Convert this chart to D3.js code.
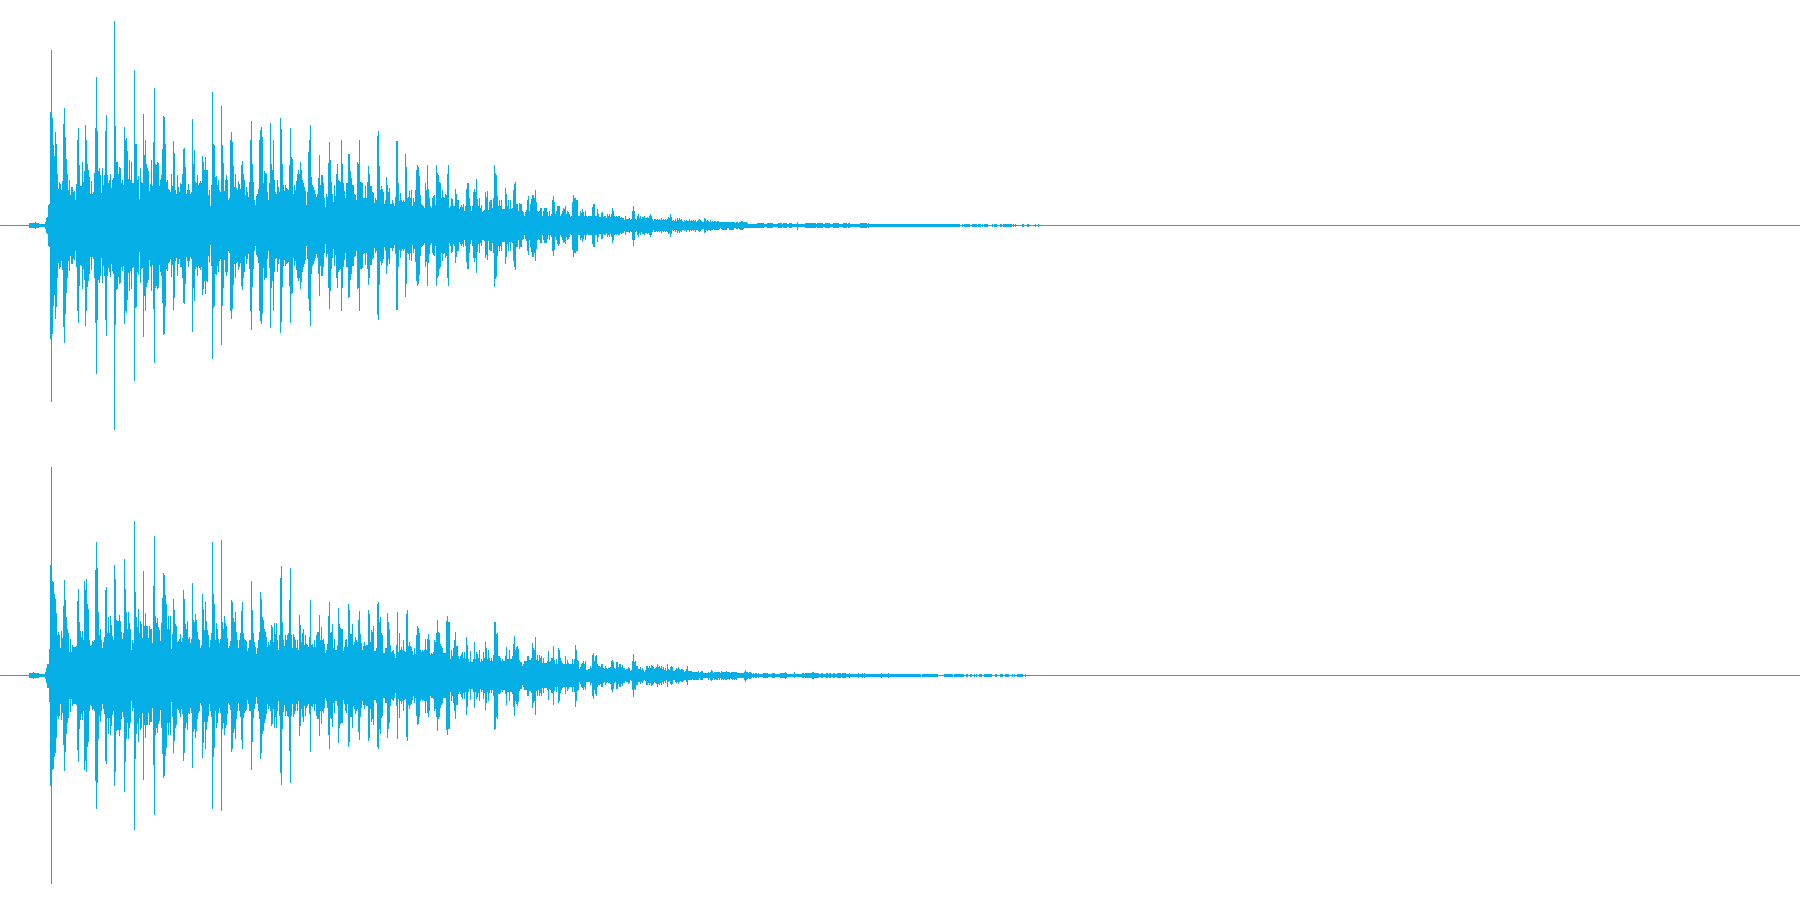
<!DOCTYPE html>
<html><head><meta charset="utf-8"><title>Stereo waveform</title>
<script src="https://cdnjs.cloudflare.com/ajax/libs/d3/7.8.5/d3.min.js"></script>
<style>html,body{margin:0;padding:0;background:#fff}svg{display:block}</style></head>
<body><svg id="wave" width="1800" height="900"></svg>
<script>
// Time unit: 1/5400 of the clip. Amplitude unit: 1/675 of full scale.
const durationUnits = 5400, fullScale = 675, columnStep = 3, columnStart = 150;

const introL = [[87,7.5],[105,10.5],[108,7.5],[117,3],[135,10],[138,22],[141,25],[144,62],[147,64]];
const introR = [[87,7.5],[99,10.5],[102,7.5],[117,3],[135,10],[138,22],[141,36],[144,36],[147,80]];

const spikesL = [[151,340],[154,528],[157,324],[160,241],[166,280],[169,244],[190,304],[193,352],[196,266],[232,253],[235,292],[256,301],[259,241],[286,292],[289,445],[292,283],[316,283],[319,331],[343,613],[346,298],[373,295],[376,256],[379,262],[403,466],[406,246],[409,244],[430,334],[460,250],[463,412],[490,328],[493,325],[496,241],[520,253],[577,319],[637,400],[640,244],[643,241],[664,358],[694,280],[697,250],[754,313],[781,286],[784,295],[787,265],[811,307],[841,322],[844,289],[871,292],[931,301],[988,250],[1078,256],[1132,268],[1135,283],[1192,253]];
const spikesR = [[151,331],[154,625],[157,284],[160,281],[163,244],[193,286],[235,259],[253,284],[259,289],[286,316],[289,400],[292,322],[316,256],[319,265],[343,331],[346,289],[373,349],[376,259],[403,463],[406,250],[430,313],[460,269],[463,418],[490,307],[493,301],[550,256],[577,277],[637,400],[640,244],[664,406],[754,283],[781,250],[841,292],[844,328],[871,323]];

const columnsEarlyL = [
256,256,256,241,208,246,244,156,111,131,124,106,133,256,256,256,201,156,106,136,
91,116,116,101,104,78,124,256,256,181,118,120,190,130,164,186,256,184,166,146,
94,133,94,100,158,256,256,238,164,172,151,98,172,121,151,256,256,152,128,138,
154,114,136,144,166,256,192,191,154,176,173,126,136,121,256,256,256,223,141,196,
136,191,128,126,251,246,244,138,148,79,172,131,128,251,211,256,184,172,164,104,
124,196,118,251,256,186,181,191,188,118,138,151,231,256,256,244,131,136,111,108,
101,154,118,254,218,106,96,151,116,101,126,124,156,231,234,176,94,106,124,106,
94,101,256,186,226,131,126,151,121,128,134,126,208,191,166,206,166,168,91,108,
58,121,256,246,241,146,148,121,138,106,101,256,241,188,104,138,151,138,78,81,
256,251,248,178,116,156,113,108,134,124,111,181,194,156,138,91,116,101,86,131,
256,256,184,131,78,61,88,94,111,256,256,256,256,128,164,158,156,101,76,128,
141,186,166,256,138,101,96,138,116,101,256,246,184,121,104,121,114,111,108,181,
256,206,201,96,121,106,134,156,166,156,191,168,138,126,116,104,61,101,221,256,
251,146,121,116,106,96,86,96,144,212,121,151,151,126,81,56,94,86,188,251,
196,131,96,71,121,88,156,186,138,134,131,256,186,126,104,81,126,126,216,214,
164,144,121,121,94,91,76,191,186,256,131,131,128,84,81,118,81,131,178,156,
118,118,101,98,68,81,78,256,256,178,106,118,111,101,64,78,146,121,101,114,
66,66,76,68,58,86,254,106,126,74,98,76,71,78,71,214,176,81,86,104,
81,106,58,81,71,108,166,181,176,148,91,64,61,58,51,126,108,181,111,84,
58,51,81,88,91,61,181,158,151,131,126,81,106,86,81,96,91,156,181,51];
const columnsEarlyR = [
256,256,256,246,234,231,188,121,131,121,84,134,113,208,256,228,176,141,128,71,
109,71,91,86,86,86,88,224,256,161,134,116,134,106,218,256,256,214,199,106,
88,91,104,101,106,256,256,256,190,121,140,106,84,101,116,256,256,128,176,128,
178,151,118,106,256,166,166,163,163,181,164,131,110,126,256,256,190,141,190,158,
141,76,106,98,256,251,176,146,199,128,164,156,113,256,148,188,148,148,113,148,
140,140,98,256,256,178,158,171,146,136,104,158,234,256,256,241,216,141,178,141,
178,79,124,231,196,156,148,101,104,111,124,101,114,256,231,156,141,164,111,116,
98,111,256,168,161,186,166,131,111,106,81,91,246,201,138,221,164,138,121,86,
106,126,256,244,216,106,158,141,111,98,111,256,161,141,178,158,148,114,81,88,
104,228,221,171,161,191,131,106,81,106,126,194,221,128,111,106,104,73,84,106,
106,256,198,128,101,86,64,84,106,131,251,231,176,166,141,131,116,86,101,91,
106,151,146,101,158,124,158,106,78,121,256,256,161,108,89,121,106,121,126,226,
256,121,84,124,116,106,84,106,78,181,151,101,126,139,91,121,96,91,86,116,
228,91,94,86,106,86,121,131,131,181,106,146,106,111,96,68,76,96,178,221,
128,131,154,81,111,78,76,91,203,156,144,141,141,74,86,106,111,86,214,198,
124,124,156,91,101,116,106,101,168,194,124,98,76,88,101,88,91,91,196,186,
101,138,131,148,74,74,81,214,220,161,176,128,121,68,68,81,81,188,161,141,
91,71,74,76,66,51,91,191,71,128,76,86,78,106,73,71,184,196,88,101,
88,86,74,61,81,66,121,148,144,126,78,71,78,73,78,111,76,111,124,106,
61,68,66,71,106,101,126,166,131,126,96,88,81,68,68,68,164,178,161,161];

const columnsLateL = [60,83,80,57,60,111,95,77,75,50,55,63,55,65,45,60,110,129,129,83,57,45,60,99,110,99,141,80,57,83,53,63,42,45,47,99,87,103,47,72,75,75,53,83,183,159,153,90,60,77,60,77,50,50,50,114,95,57,77,50,75,50,53,107,123,132,65,65,45,69,65,65,45,40,30,40,47,75,89,45,65,80,93,93,83,107,70,45,40,45,53,53,30,45,53,53,53,40,30,45,30,35,77,90,72,35,45,57,60,57,30,35,45,53,50,57,35,45,40,35,25,30,72,93,83,83,75,75,30,27,43,37,50,40,27,45,30,25,27,27,27,27,55,65,65,30,27,50,35,25,25,39,41,25,27,29,23,35,29,33,25,33,53,45,30,25,29,25,27,27,23,25,23,23,17,29,19,20,21,23,17,19,43,60,43,20,17,30,33,23,27,20,25,25,30,23,23,25,23,27,33,30,19,15,20,20,17,20,17,20,17,22,17,19,17,20,17,19,25,23,33,25,13,17,15,19,15,23,17,23,17,20,15,12,17,15,18,15,13,19,13,17,14,17,15,18,12,15,17,19,17,15,10,11,23,19,15,17,15,12,17,12,13,10,15,13,12,15,13,11,9,10,12,12,12,12,12,9,9,12,12,12,12,12,9,8,10,10,8,10,12,13,15,11,9,9,9,7,6,6];
const columnsLateR = [50,77,60,83,107,131,89,89,57,50,57,65,70,53,70,50,117,93,50,40,73,40,40,50,99,50,70,65,53,77,40,50,43,70,53,102,83,50,77,53,43,53,43,63,162,160,125,129,57,57,53,43,50,43,43,57,87,50,50,75,50,50,57,95,120,77,85,90,80,47,41,41,30,33,45,43,45,60,60,47,47,53,97,83,75,117,47,63,43,63,53,60,37,53,37,37,37,45,73,40,45,53,53,89,47,35,49,35,83,77,53,45,37,33,33,57,33,47,39,33,33,33,50,33,50,93,77,47,45,20,25,33,37,43,33,45,18,18,19,19,27,23,63,69,43,57,63,35,27,29,25,35,35,23,20,27,23,20,22,23,25,43,48,40,23,20,40,40,25,33,33,25,31,23,23,17,19,20,26,23,15,17,43,65,40,43,30,27,19,19,25,18,22,17,12,17,27,30,23,27,23,32,30,25,19,22,25,33,25,27,22,28,20,25,17,22,15,35,19,17,25,27,25,15,13,18,23,19,25,19,17,19,19,17,12,15,19,27,15,15,15,15,10,12,12,12,12,12,15,8,12,15,13,8,8,8,8,8,12,8,12,17,15,8,12,10,12,12,9,12,8,15,10,12,10,12,14,10,10,12,8,10,12,10,12,10,12,7,7,7,7,7,7,7,12,18,12,10,8,10,11,8,5,8,5,7,7,5,8,5];

const tailL = [[2250,6],[2272,7.5],[2292,4.5],[2302,7.5],[2320,4.5],[2334,7.5],[2345,4.5],[2350,7.5],[2360,4.5],[2368,7.5],[2376,4.5],[2390,12],[2395,4.5],[2415,7.5],[2448,4.5],[2450,7.5],[2468,4.5],[2476,7.5],[2490,4.5],[2500,7.5],[2517,4.5],[2530,7.5],[2541,4.5],[2544,7.5],[2550,4.5],[2580,7.5],[2600,4.5],[2603,7.5],[2606,4.5],[2880,1],[2887,4.5],[2890,1],[2893,4.5],[2910,1],[2917,4.5],[2931,1],[2935,4.5],[2943,1],[2947,4.5],[2950,1],[2953,4.5],[2963,1],[2977,4.5],[2980,1],[2983,4.5],[2990,1],[3000,4.5],[3006,1],[3010,4.5],[3035,1],[3038,4.5],[3041,1],[3045,4.5],[3048,1],[3066,4.5],[3072,1],[3081,4.5],[3087,1],[3105,4.5],[3108,1],[3114,4.5],[3117,1]];
const tailR = [[2280,4.5],[2290,7.5],[2305,4.5],[2315,7.5],[2325,4.5],[2340,7.5],[2355,10.5],[2358,7.5],[2360,4.5],[2383,9],[2386,4.5],[2405,7.5],[2412,4.5],[2415,7.5],[2437,10.5],[2442,7.5],[2456,4.5],[2462,7.5],[2468,4.5],[2478,7.5],[2485,4.5],[2488,7.5],[2494,4.5],[2498,7.5],[2504,4.5],[2510,7.5],[2516,4.5],[2518,7.5],[2522,4.5],[2526,7.5],[2538,4.5],[2547,7.5],[2549,4.5],[2575,7.5],[2578,4.5],[2587,7.5],[2590,4.5],[2593,7.5],[2595,4.5],[2643,7.5],[2646,4.5],[2664,7.5],[2667,4.5],[2762,1],[2765,4.5],[2813,1],[2831,4.5],[2858,1],[2862,4.5],[2892,1],[2898,4.5],[2904,1],[2910,4.5],[2916,1],[2922,4.5],[2925,1],[2928,4.5],[2931,1],[2937,4.5],[2946,1],[2952,4.5],[2976,1],[2985,4.5],[2991,1],[3000,4.5],[3009,1],[3015,4.5],[3027,1],[3036,4.5],[3039,1],[3042,4.5],[3045,1],[3051,4.5],[3069,1],[3075,4.5],[3078,1]];

const channels = [
  {name:"left",  intro:introL, spikes:spikesL, columns:columnsEarlyL.concat(columnsLateL), tail:tailL},
  {name:"right", intro:introR, spikes:spikesR, columns:columnsEarlyR.concat(columnsLateR), tail:tailR}
];

const W = 1800, H = 900, colour = "#06aee6";
const x = d3.scaleLinear().domain([0, durationUnits]).range([0, W]);
const band = d3.scaleBand().domain(channels.map(c => c.name)).range([0, H]);
const y = d3.scaleLinear().domain([fullScale, -fullScale]).range([0.5, band.bandwidth() + 0.5]);

function segments(list, end) {
  return list.map((d, i) => ({t0:d[0], t1: i < list.length - 1 ? list[i+1][0] : end, a:d[1]}));
}

const svg = d3.select("#wave").attr("shape-rendering", "crispEdges");
svg.append("rect").attr("width", W).attr("height", H).attr("fill", "#fff");

const groups = svg.selectAll("g.channel").data(channels).join("g")
  .attr("class", "channel")
  .attr("transform", c => `translate(0,${band(c.name)})`)
  .attr("fill", colour);

groups.each(function(c) {
  const g = d3.select(this);
  const marks = [];
  segments(c.intro, columnStart).forEach(s => marks.push(s));
  c.columns.forEach((a, i) => marks.push({t0:columnStart + i * columnStep, t1:columnStart + (i + 1) * columnStep, a}));
  c.spikes.forEach(d => marks.push({t0:d[0] - 1, t1:d[0] + 2, a:d[1]}));
  segments(c.tail, c.tail[c.tail.length - 1][0]).forEach(s => marks.push(s));

  g.append("rect").attr("class", "baseline")
    .attr("x", x(0)).attr("width", x(durationUnits))
    .attr("y", Math.floor(y(0))).attr("height", 1);

  g.selectAll("rect.mark").data(marks).join("rect")
    .attr("class", "mark")
    .attr("x", d => Math.round(x(d.t0)))
    .attr("width", d => Math.max(1, Math.round(x(d.t1)) - Math.round(x(d.t0))))
    .attr("y", d => Math.round(y(d.a)))
    .attr("height", d => Math.max(1, Math.round(y(-d.a)) - Math.round(y(d.a))));
});
</script></body></html>
